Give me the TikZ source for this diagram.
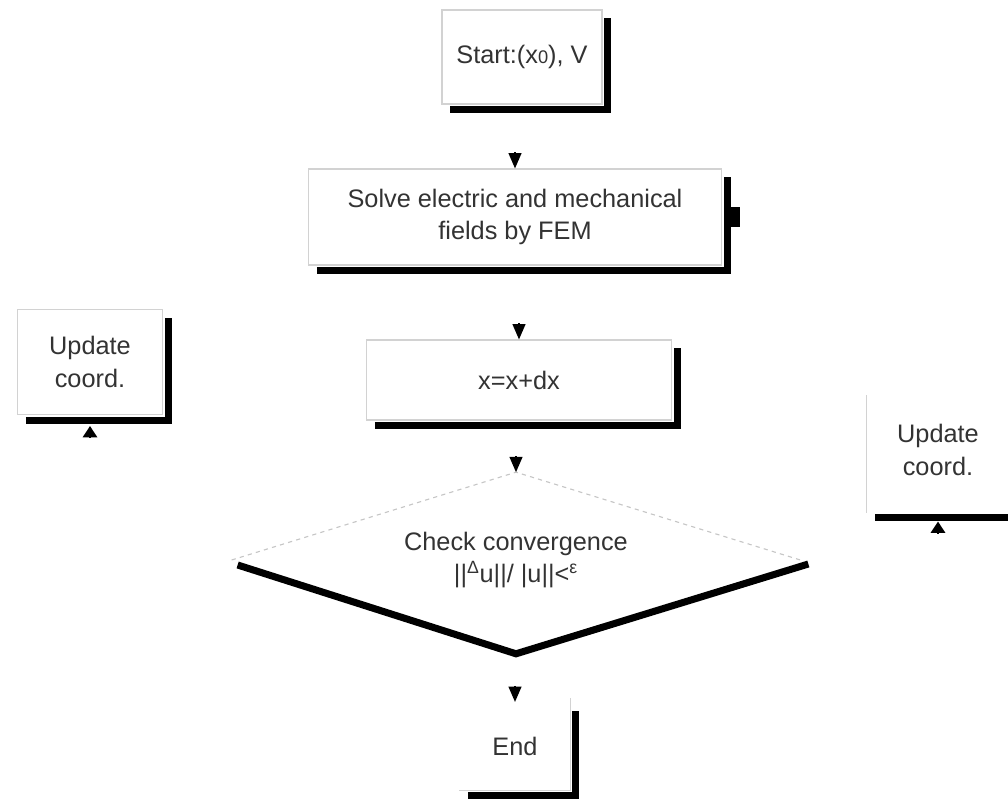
\documentclass[tikz,border=0pt]{standalone}
\usepackage{fontspec}
\setmainfont{Liberation Sans}
\usetikzlibrary{shapes.geometric,arrows.meta}

\tikzset{
	flowbox/.style = { draw = gray!35, line width = 0.8pt, fill = white, text = black!80, align = center, inner sep = 0pt, font = \fontsize{18}{23}\selectfont },
	openbox/.style = { flowbox, draw = none },
	flowcheck/.style = { diamond, aspect = 3.3, inner sep = 0pt, text = black!80, align = center, font = \fontsize{18}{23}\selectfont },
	edgeline/.style = { gray!35, line width = 0.8pt },
	boxshade/.style = { draw = black, line width = 5pt },
	downtip/.style = { -{Triangle[length = 0.38cm, width = 0.32cm]}, line width = 1pt },
	uptip/.style = { -{Triangle[length = 0.28cm, width = 0.36cm]}, line width = 1pt }
}

\begin{document}
	\begin{tikzpicture}[x = 0.025cm, y = -0.025cm]
		\useasboundingbox ( 0, 0 ) rectangle ( 1008, 800 );

		% блоки
		\node [flowbox, minimum width = 4.0cm, minimum height = 2.35cm] (start) at ( 522, 57 ) {Start:(x{\fontsize{13}{13}\selectfont 0}), V};
		\node [flowbox, minimum width = 10.325cm, minimum height = 2.4cm] (solve) at ( 515, 217 ) {Solve electric and mechanical\\fields by FEM};
		\node [flowbox, minimum width = 7.625cm, minimum height = 2.0cm] (xupd) at ( 519, 380 ) {x=x+dx};
		\node [flowcheck, minimum width = 14.2cm, minimum height = 4.375cm] (check) at ( 516, 560 ) {Check convergence\\||\textsuperscript{Δ}u||/ |u||<\textsuperscript{ε}};
		\node [openbox, minimum width = 2.75cm, minimum height = 2.175cm] (finish) at ( 515, 746 ) {End};
		\node [flowbox, minimum width = 3.625cm, minimum height = 2.625cm] (updleft) at ( 90, 362 ) {Update\\coord.};
		\node [openbox, minimum width = 3.55cm, minimum height = 3.1cm] (updright) at ( 938, 450 ) {Update\\coord.};

		% видимые края
		\draw [gray!45, dashed, line width = 0.8pt] (check.west) -- (check.north) -- (check.east);
		\draw [edgeline] (finish.south west) -- (finish.south east) -- ([shift = {( 0, -4 )}] finish.north east);
		\draw [edgeline] ([shift = {( 0, 8 )}] updright.north west) -- (updright.south west);

		% тени
		\draw [boxshade] ([shift = {( 9, 5 )}] start.south west) -| ([shift = {( 5, 9 )}] start.north east);
		\draw [boxshade] ([shift = {( 9, 5 )}] solve.south west) -| ([shift = {( 5, 9 )}] solve.north east);
		\draw [boxshade] ([shift = {( 9, 5 )}] xupd.south west) -| ([shift = {( 5, 9 )}] xupd.north east);
		\draw [boxshade] ([shift = {( 9, 5 )}] finish.south west) -| ([shift = {( 5, 9 )}] finish.north east);
		\draw [boxshade] ([shift = {( 9, 5 )}] updleft.south west) -| ([shift = {( 5, 9 )}] updleft.north east);
		\draw [boxshade] ([shift = {( 9, 5 )}] updright.south west) -| ([shift = {( 5, 9 )}] updright.north east);
		\draw [boxshade] ([shift = {( 6, 5 )}] check.west) -- ([shift = {( 0, 6 )}] check.south) -- ([shift = {( 8, 4 )}] check.east);
		\fill ([shift = {( 8, -10 )}] solve.east) rectangle ([shift = {( 18, 10 )}] solve.east);

		% стрелки
		\draw [downtip] ([shift = {( 0, -16 )}] solve.north) -- (solve.north);
		\draw [downtip] ([shift = {( 0, -16 )}] xupd.north) -- (xupd.north);
		\draw [downtip] ([shift = {( 0, -16 )}] check.north) -- (check.north);
		\draw [downtip] ([shift = {( 0, -16 )}] finish.north) -- (finish.north);
		\draw [uptip] ([shift = {( 0, 23 )}] updleft.south) -- ([shift = {( 0, 11 )}] updleft.south);
		\draw [uptip] ([shift = {( 0, 21 )}] updright.south) -- ([shift = {( 0, 9 )}] updright.south);
	\end{tikzpicture}
\end{document}
